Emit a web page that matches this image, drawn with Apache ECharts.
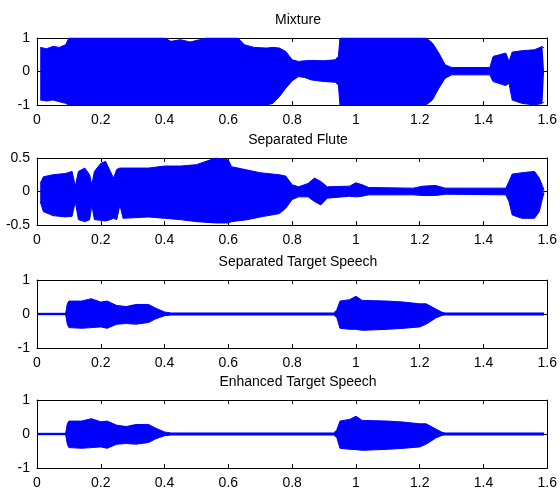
<!DOCTYPE html>
<html>
<head>
<meta charset="utf-8">
<script src="https://cdn.jsdelivr.net/npm/echarts@6/dist/echarts.min.js"></script>
<style>
html, body { margin: 0; padding: 0; background: #fff; }
#chart { width: 560px; height: 493px; }
</style>
</head>
<body>
<div id="chart"></div>
<script>
// Panel titles and axis ranges
const titles = ['Mixture', 'Separated Flute', 'Separated Target Speech', 'Enhanced Target Speech'];
const xRange = [0, 1.6, 0.2];
const yRanges = [[-1, 1, 1], [-0.5, 0.5, 0.5], [-1, 1, 1], [-1, 1, 1]];

// Envelopes (time in s, upper / lower amplitude)
const mixT  = [0.01, 0.03, 0.05, 0.07, 0.09, 0.10, 0.40, 0.42, 0.45, 0.48, 0.51, 0.53, 0.63, 0.65, 0.68, 0.72, 0.74, 0.76, 0.78, 0.80, 0.82, 0.84, 0.86, 0.90, 0.935, 0.945, 0.95, 1.22, 1.24, 1.26, 1.28, 1.30, 1.42, 1.43, 1.47, 1.48, 1.49, 1.52, 1.56, 1.585, 1.59];
const mixUp = [0.72, 0.68, 0.75, 0.72, 0.8, 1, 1, 0.9, 0.95, 0.88, 0.95, 1, 1, 0.8, 0.72, 0.7, 0.72, 0.7, 0.6, 0.35, 0.3, 0.32, 0.33, 0.32, 0.35, 0.45, 1, 1, 0.85, 0.55, 0.2, 0.12, 0.12, 0.45, 0.55, 0.3, 0.58, 0.62, 0.65, 0.75, 0.7];
const mixLo = [-0.85, -0.88, -0.85, -0.9, -0.95, -1, -1, -1, -1, -1, -1, -1, -1, -1, -1, -1, -0.95, -0.75, -0.5, -0.28, -0.15, -0.18, -0.25, -0.3, -0.32, -0.4, -1, -1, -0.85, -0.5, -0.2, -0.1, -0.1, -0.3, -0.42, -0.35, -0.85, -0.95, -1, -0.95, -0.9];

const fluteT  = [0.01, 0.02, 0.05, 0.09, 0.11, 0.12, 0.13, 0.15, 0.165, 0.172, 0.18, 0.20, 0.215, 0.23, 0.24, 0.25, 0.26, 0.27, 0.35, 0.40, 0.45, 0.50, 0.53, 0.56, 0.60, 0.61, 0.66, 0.70, 0.76, 0.78, 0.80, 0.82, 0.85, 0.87, 0.89, 0.91, 0.98, 1.00, 1.02, 1.04, 1.18, 1.21, 1.25, 1.28, 1.47, 1.48, 1.49, 1.52, 1.56, 1.575, 1.585, 1.59];
const fluteUp = [0.12, 0.22, 0.25, 0.27, 0.3, 0.08, 0.3, 0.35, 0.25, 0.1, 0.3, 0.42, 0.45, 0.3, 0.2, 0.33, 0.35, 0.35, 0.35, 0.38, 0.38, 0.4, 0.45, 0.5, 0.47, 0.37, 0.32, 0.28, 0.25, 0.23, 0.1, 0.07, 0.12, 0.2, 0.15, 0.07, 0.08, 0.13, 0.1, 0.06, 0.05, 0.08, 0.09, 0.05, 0.05, 0.15, 0.26, 0.28, 0.3, 0.2, 0.08, 0.02];
const fluteLo = [-0.15, -0.3, -0.36, -0.38, -0.37, -0.15, -0.42, -0.45, -0.42, -0.2, -0.42, -0.43, -0.44, -0.42, -0.4, -0.42, -0.2, -0.4, -0.38, -0.4, -0.42, -0.45, -0.46, -0.47, -0.47, -0.45, -0.42, -0.38, -0.33, -0.25, -0.12, -0.08, -0.08, -0.15, -0.2, -0.1, -0.07, -0.08, -0.07, -0.05, -0.05, -0.06, -0.06, -0.04, -0.05, -0.15, -0.35, -0.4, -0.4, -0.3, -0.1, -0.02];

const speechT  = [0, 0.09, 0.095, 0.10, 0.14, 0.17, 0.20, 0.22, 0.25, 0.28, 0.31, 0.35, 0.37, 0.40, 0.42, 0.70, 0.705, 0.93, 0.94, 0.95, 0.98, 1.00, 1.02, 1.10, 1.15, 1.20, 1.22, 1.25, 1.27, 1.28, 1.44, 1.445, 1.59];
const speechUp = [0.02, 0.02, 0.3, 0.38, 0.38, 0.45, 0.35, 0.38, 0.25, 0.22, 0.28, 0.28, 0.18, 0.06, 0.03, 0.03, 0.05, 0.03, 0.12, 0.38, 0.42, 0.52, 0.4, 0.38, 0.35, 0.3, 0.3, 0.15, 0.05, 0.03, 0.03, 0.05, 0.03];
const speechLo = [-0.02, -0.02, -0.3, -0.4, -0.42, -0.4, -0.38, -0.42, -0.3, -0.28, -0.3, -0.25, -0.15, -0.05, -0.03, -0.03, -0.04, -0.03, -0.1, -0.42, -0.45, -0.45, -0.48, -0.45, -0.42, -0.38, -0.3, -0.12, -0.04, -0.03, -0.03, -0.05, -0.03];

const enhT  = [0, 0.09, 0.095, 0.10, 0.14, 0.17, 0.20, 0.22, 0.25, 0.28, 0.31, 0.35, 0.37, 0.40, 0.42, 0.70, 0.705, 0.93, 0.94, 0.95, 0.98, 1.00, 1.02, 1.10, 1.15, 1.20, 1.22, 1.25, 1.27, 1.28, 1.44, 1.445, 1.59];
const enhUp = [0.02, 0.02, 0.3, 0.38, 0.38, 0.45, 0.36, 0.38, 0.26, 0.22, 0.28, 0.28, 0.18, 0.06, 0.03, 0.03, 0.05, 0.03, 0.12, 0.38, 0.43, 0.52, 0.4, 0.38, 0.35, 0.3, 0.3, 0.15, 0.05, 0.03, 0.03, 0.05, 0.03];
const enhLo = [-0.02, -0.02, -0.3, -0.4, -0.42, -0.4, -0.38, -0.42, -0.3, -0.28, -0.3, -0.25, -0.15, -0.05, -0.03, -0.03, -0.04, -0.03, -0.1, -0.42, -0.45, -0.46, -0.48, -0.45, -0.42, -0.38, -0.3, -0.12, -0.04, -0.03, -0.03, -0.05, -0.03];

const panels = [
    [mixT, mixUp, mixLo],
    [fluteT, fluteUp, fluteLo],
    [speechT, speechUp, speechLo],
    [enhT, enhUp, enhLo]
];

// Layout
const TOPS = [38, 158, 280, 400];
const HEIGHTS = [67, 67, 68, 68];
const LEFT = 37, RIGHT = 11;
const BLUE = '#0000ff';
const FONT = 'Arial, "Liberation Sans", sans-serif';

const chart = echarts.init(document.getElementById('chart'), null, {renderer: 'canvas'});

const grid = [], xAxis = [], yAxis = [], series = [], title = [];

panels.forEach((p, i) => {
    grid.push({left: LEFT, right: RIGHT, top: TOPS[i], height: HEIGHTS[i], containLabel: false});

    title.push({
        text: titles[i],
        left: LEFT + (560 - LEFT - RIGHT) / 2,
        top: TOPS[i] - 30,
        textAlign: 'center',
        textStyle: {fontFamily: FONT, fontSize: 14, fontWeight: 'normal', color: '#000'}
    });

    const axisLine = {show: true, onZero: false, lineStyle: {color: '#000', width: 1}};
    const axisTick = {show: true, inside: true, length: 4, lineStyle: {color: '#000'}};

    // bottom x axis with labels, top x axis for the box ticks
    xAxis.push({
        type: 'value', gridIndex: i, min: xRange[0], max: xRange[1], interval: xRange[2],
        position: 'bottom', axisLine, axisTick, splitLine: {show: false},
        axisLabel: {color: '#000', fontFamily: FONT, fontSize: 14, margin: 8}
    });
    xAxis.push({
        type: 'value', gridIndex: i, min: xRange[0], max: xRange[1], interval: xRange[2],
        position: 'top', axisLine, axisTick, splitLine: {show: false}, axisLabel: {show: false}
    });

    const yr = yRanges[i];
    yAxis.push({
        type: 'value', gridIndex: i, min: yr[0], max: yr[1], interval: yr[2],
        position: 'left', axisLine, axisTick, splitLine: {show: false},
        axisLabel: {color: '#000', fontFamily: FONT, fontSize: 14, margin: 7}
    });
    yAxis.push({
        type: 'value', gridIndex: i, min: yr[0], max: yr[1], interval: yr[2],
        position: 'right', axisLine, axisTick, splitLine: {show: false}, axisLabel: {show: false}
    });

    const [t, up, lo] = p;
    [up, lo].forEach(vals => {
        series.push({
            type: 'line',
            xAxisIndex: i * 2,
            yAxisIndex: i * 2,
            data: t.map((x, k) => [x, vals[k]]),
            showSymbol: false,
            lineStyle: {color: BLUE, width: 1},
            areaStyle: {color: BLUE, opacity: 1, origin: 0},
            silent: true
        });
    });
    // centre trace: closes the seam between the two filled halves
    series.push({
        type: 'line',
        xAxisIndex: i * 2,
        yAxisIndex: i * 2,
        data: [[t[0], 0], [t[t.length - 1], 0]],
        showSymbol: false,
        lineStyle: {color: BLUE, width: 2},
        silent: true
    });
});

chart.setOption({
    animation: false,
    backgroundColor: '#fff',
    title, grid, xAxis, yAxis, series
});
</script>
</body>
</html>
